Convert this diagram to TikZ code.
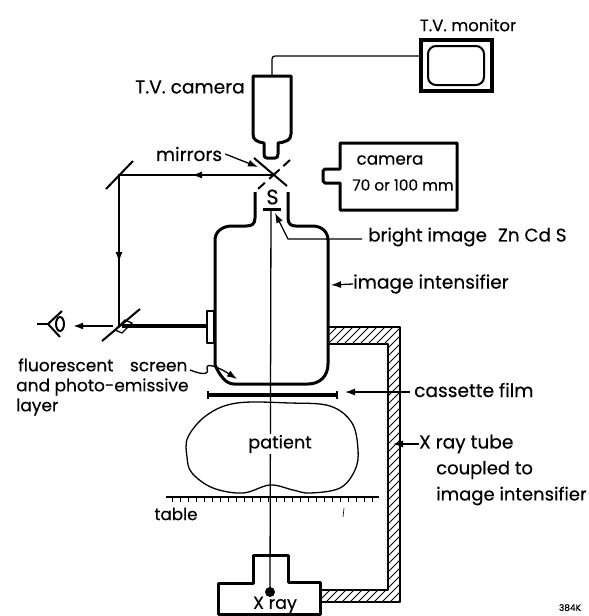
\documentclass[tikz,border=0pt]{standalone}
\usepackage{fontspec}
\setmainfont{Poppins}[FakeBold=0.35]
\usetikzlibrary{arrows.meta}
\tikzset{
  x=1pt,y=-1pt,
  heavy/.style={line width=3pt,line join=round},
  medium/.style={line width=2pt,line join=round},
  thin line/.style={line width=1.3pt},
  lab/.style={inner sep=0pt,font=\fontsize{18.6}{20}\selectfont,text=black},
  tip/.style={-{Latex[length=10pt,width=7pt]}},
}
\begin{document}
\begin{tikzpicture}
\useasboundingbox (0,0) rectangle (589,616);
% axis
\coordinate (axisTop) at (271,209);
\coordinate (tubeDot) at (270,592);
\draw[thin line] (axisTop) -- (tubeDot);
% TV camera
\draw[heavy,fill=white] (253,76) -- (291,76) -- (291,134) .. controls (291,140) and (286,142) .. (278,143) -- (278,154) .. controls (278,157) and (277,158) .. (275,158) -- (267,158) .. controls (265,158) and (264,157) .. (264,154) -- (264,143) .. controls (257,142) and (253,140) .. (253,134) -- cycle;
\coordinate (camTop) at (272,75);
% monitor
\draw[line width=3.2pt] (421,40) rectangle (492,91);
\draw[medium,rounded corners=8pt] (428,46) rectangle (484,85);
\coordinate (monL) at (421,56);
\draw[thin line,rounded corners=3pt] (camTop) |- (monL);
% Mirrors
\draw[medium] (254,158) -- (287,186);
\draw[medium,dash pattern=on 9pt off 5pt on 14pt off 6pt on 9pt off 5pt] (290,160) -- (258,189);
\draw[medium] (133,161) -- (106,189);
\draw[medium] (140,309) -- (102,341);
% optical path
\coordinate (pA) at (272,175);
\coordinate (pB) at (119,175);
\coordinate (pC) at (119,326);
\draw[thin line] (pA) -- (pB) -- (pC);
\draw[thin line,tip] (pA) -- (192,175);
\draw[thin line,tip] (pB) -- (119,262);
% camera box
\draw[heavy] (340,143) -- (457,143) -- (457,210) -- (340,210) -- (340,183) -- (325,183) -- (323,181) -- (323,171) -- (325,169) -- (340,169) -- cycle;
% S
\node[lab,font=\fontsize{21}{22}\selectfont] (sLabel) at (272.5,197) {S};
\draw[heavy] (263,209) -- (281,209);
% intensifier
\draw[heavy] (255,192) -- (255,218) .. controls (255,224) and (252,226) .. (246,226) -- (232,226) .. controls (222,226) and (215,232) .. (215,240) -- (215,365) .. controls (220,376) and (226,384) .. (234,384) -- (308,384) .. controls (320,384) and (328,376) .. (328,364) -- (328,240) .. controls (328,232) and (322,226) .. (312,226) -- (296,226) .. controls (291,226) and (288,224) .. (288,218) -- (288,192);
% ocular
\draw[medium] (207,311) rectangle (214,343);
\draw[line width=3.5pt] (122,326) -- (207,326);
\draw[thin line] (115,330) -- (122,333) -- (132,323) -- (125,320) -- cycle;
% eye
\draw[medium] (37,324) -- (48,324);
\draw[medium] (62,311) -- (48,324) -- (60,337);
\draw[medium] (60,324) ellipse (4 and 7);
\coordinate (eyeR) at (73,326);
\draw[medium,tip] (113,326) -- (eyeR);
% frame with hatching
\begin{scope}
\clip (328,327) -- (400,327) -- (400,602) -- (321,602) -- (321,590) -- (388,590) -- (388,344) -- (328,344) -- cycle;
\foreach \k in {0,8,...,720}{
  \draw[line width=.8pt] (320+\k-300,620) -- (320+\k,320);
}
\end{scope}
\draw[medium] (328,327) -- (400,327) -- (400,602) -- (321,602);
\draw[medium] (328,344) -- (388,344) -- (388,590) -- (321,590);
% cassette
\draw[line width=3.2pt] (208,395) -- (337,395);
\draw[medium] (208,391) -- (208,399);
\draw[medium] (337,391) -- (337,399);
% patient
\draw[thin line] plot[smooth cycle,tension=.6] coordinates {(237,403) (207,415) (188,437) (187,457) (192,473) (213,488) (243,493) (270,485) (293,490) (310,493) (340,488) (355,470) (358,450) (352,423) (330,406) (290,403)};
\node[lab,fill=white,inner sep=1pt,font=\fontsize{17.7}{20}\selectfont] (patientLabel) at (280,444) {patient};
% table
\draw[thin line] (166,497) -- (379,497);
\foreach \k in {0,...,25}{ \draw[line width=1pt] (172+8*\k,497) -- (172+8*\k,502); }
\node[lab,font=\fontsize{16.7}{20}\selectfont] (tableLabel) at (176,514) {table};
\draw[line width=.6pt] (344,508) -- (343,517);
% x ray
\draw[heavy] (288,582) -- (288,555) -- (253,555) -- (253,583) -- (218,583) -- (218,614.5) -- (320,614.5) -- (320,582) -- cycle;
\fill (tubeDot) circle (5);
\node[lab,font=\fontsize{17.5}{20}\selectfont] (xrayLabel) at (275,605) {X ray};
% labels
\node[lab] (tvCam) at (190,87) {T.V. camera};
\node[lab,font=\fontsize{16.5}{20}\selectfont] (tvMon) at (468,25) {T.V. monitor};
\node[lab] (mirrorsLabel) at (189,154) {mirrors};
\node[lab,font=\fontsize{16.8}{20}\selectfont] (camLabel) at (390,160) {camera};
\node[lab,font=\fontsize{15.3}{18}\selectfont] (camSize) at (403,185) {70 or 100 mm};
\node[lab,anchor=west,font=\fontsize{18.3}{20}\selectfont] (bright) at (368,237) {bright image\hspace{.6em}Zn Cd S};
\node[lab,anchor=west] (intens) at (353,284) {image intensifier};
\node[lab,anchor=west] (cass) at (414,390) {cassette film};
\node[lab,anchor=west] (tube) at (419,444) {X ray tube};
\node[lab,anchor=west,font=\fontsize{18}{20}\selectfont] (coupled) at (436,470) {coupled to};
\node[lab,anchor=west,font=\fontsize{18}{20}\selectfont] (tubeInt) at (436,496) {image intensifier};
\node[lab,anchor=west,align=left,font=\fontsize{17}{20}\selectfont] (fluor) at (16,387) {\hspace{2pt}fluorescent\hspace{12pt} screen\\and photo-emissive\\layer};
\node[inner sep=0pt,anchor=north,font=\fontsize{9}{9}\selectfont] (code) at (570,604) {384K};
% leaders
\draw[thin line,tip] (mirrorsLabel.east) ++(3,0) -- (258,167);
\draw[thin line,tip] (bright.west) ++(-6,2) -- (288,239) -- (275,213);
\draw[thin line,tip] (intens.west) -- (331,285);
\draw[thin line,tip] (cass.west) ++(-4,2) -- (345,392);
\draw[thin line,tip] (tube.west) -- (393,444);
\draw[thin line,tip] (190,370) .. controls (200,374) and (210,376) .. (207,368) .. controls (206,362) and (220,368) .. (237,379);
\end{tikzpicture}
\end{document}
